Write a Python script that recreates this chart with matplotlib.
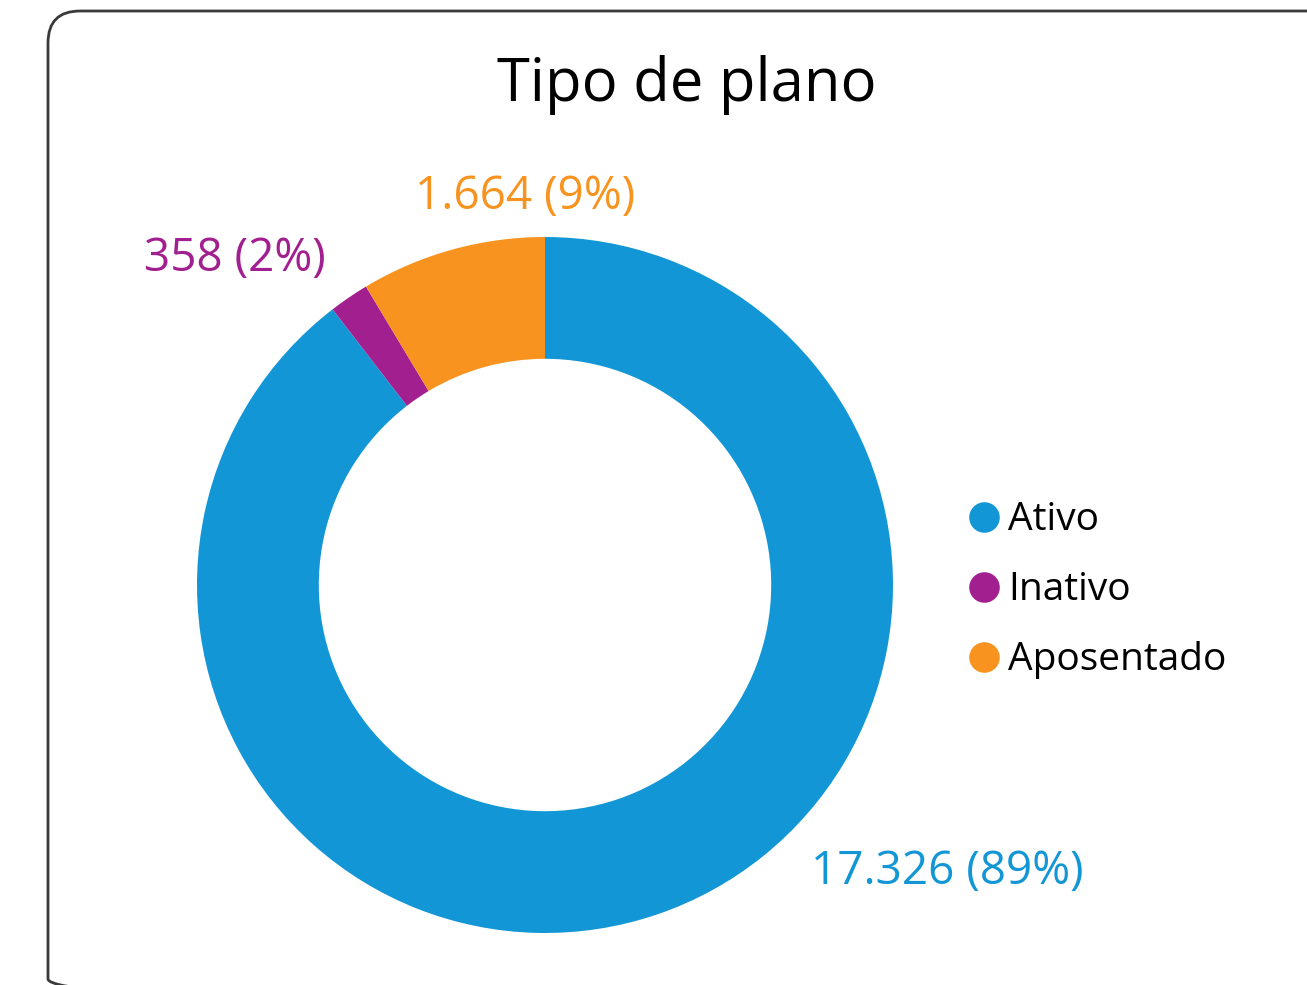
import matplotlib.pyplot as plt
from matplotlib.patches import FancyBboxPatch

plt.rcParams['font.family'] = ['Open Sans', 'DejaVu Sans']

categories = ["Ativo", "Inativo", "Aposentado"]
values = [17326, 358, 1664]
labels = ["17.326 (89%)", "358 (2%)", "1.664 (9%)"]
colors = ["#1396D6", "#A21F8F", "#F7931E"]
title = "Tipo de plano"

W, H = 1307, 985
fig = plt.figure(figsize=(W / 100, H / 100), dpi=100)

# background axes in pixel coords for the rounded frame
bg = fig.add_axes([0, 0, 1, 1])
bg.set_xlim(0, W)
bg.set_ylim(H, 0)
bg.axis("off")
frame = FancyBboxPatch((48, 11), 1320, 1000,
                       boxstyle="round,pad=0,rounding_size=32",
                       fill=False, edgecolor="#3a3a3a", linewidth=2)
bg.add_patch(frame)
bg.text(687, 85, title, ha="center", va="center", fontsize=43, color="black")

# donut: center (545, 585), radius 348 px
cx, cy, r = 545, 585, 348
ax = fig.add_axes([(cx - r) / W, (H - cy - r) / H, 2 * r / W, 2 * r / H])
wedges, _ = ax.pie(values, colors=colors, startangle=90, counterclock=False,
                   wedgeprops=dict(width=0.35, linewidth=0))
ax.set_xlim(-1, 1)
ax.set_ylim(-1, 1)
ax.set_aspect("auto")
ax.axis("off")

label_pos = [(1.156, -0.825), (-0.89, 0.936), (-0.057, 1.114)]
for lab, (x, y), c in zip(labels, label_pos, colors):
    ax.text(x, y, lab, ha="center", va="center", fontsize=33, color=c,
            clip_on=False)

# legend
for i, (cat, c) in enumerate(zip(categories, colors)):
    y = 517 + 70 * i
    bg.plot(984, y, "o", color=c, markersize=22, markeredgewidth=0)
    bg.text(1008, y + 3, cat, ha="left", va="center", fontsize=28, color="black")

fig.savefig("out.png", dpi=100)
